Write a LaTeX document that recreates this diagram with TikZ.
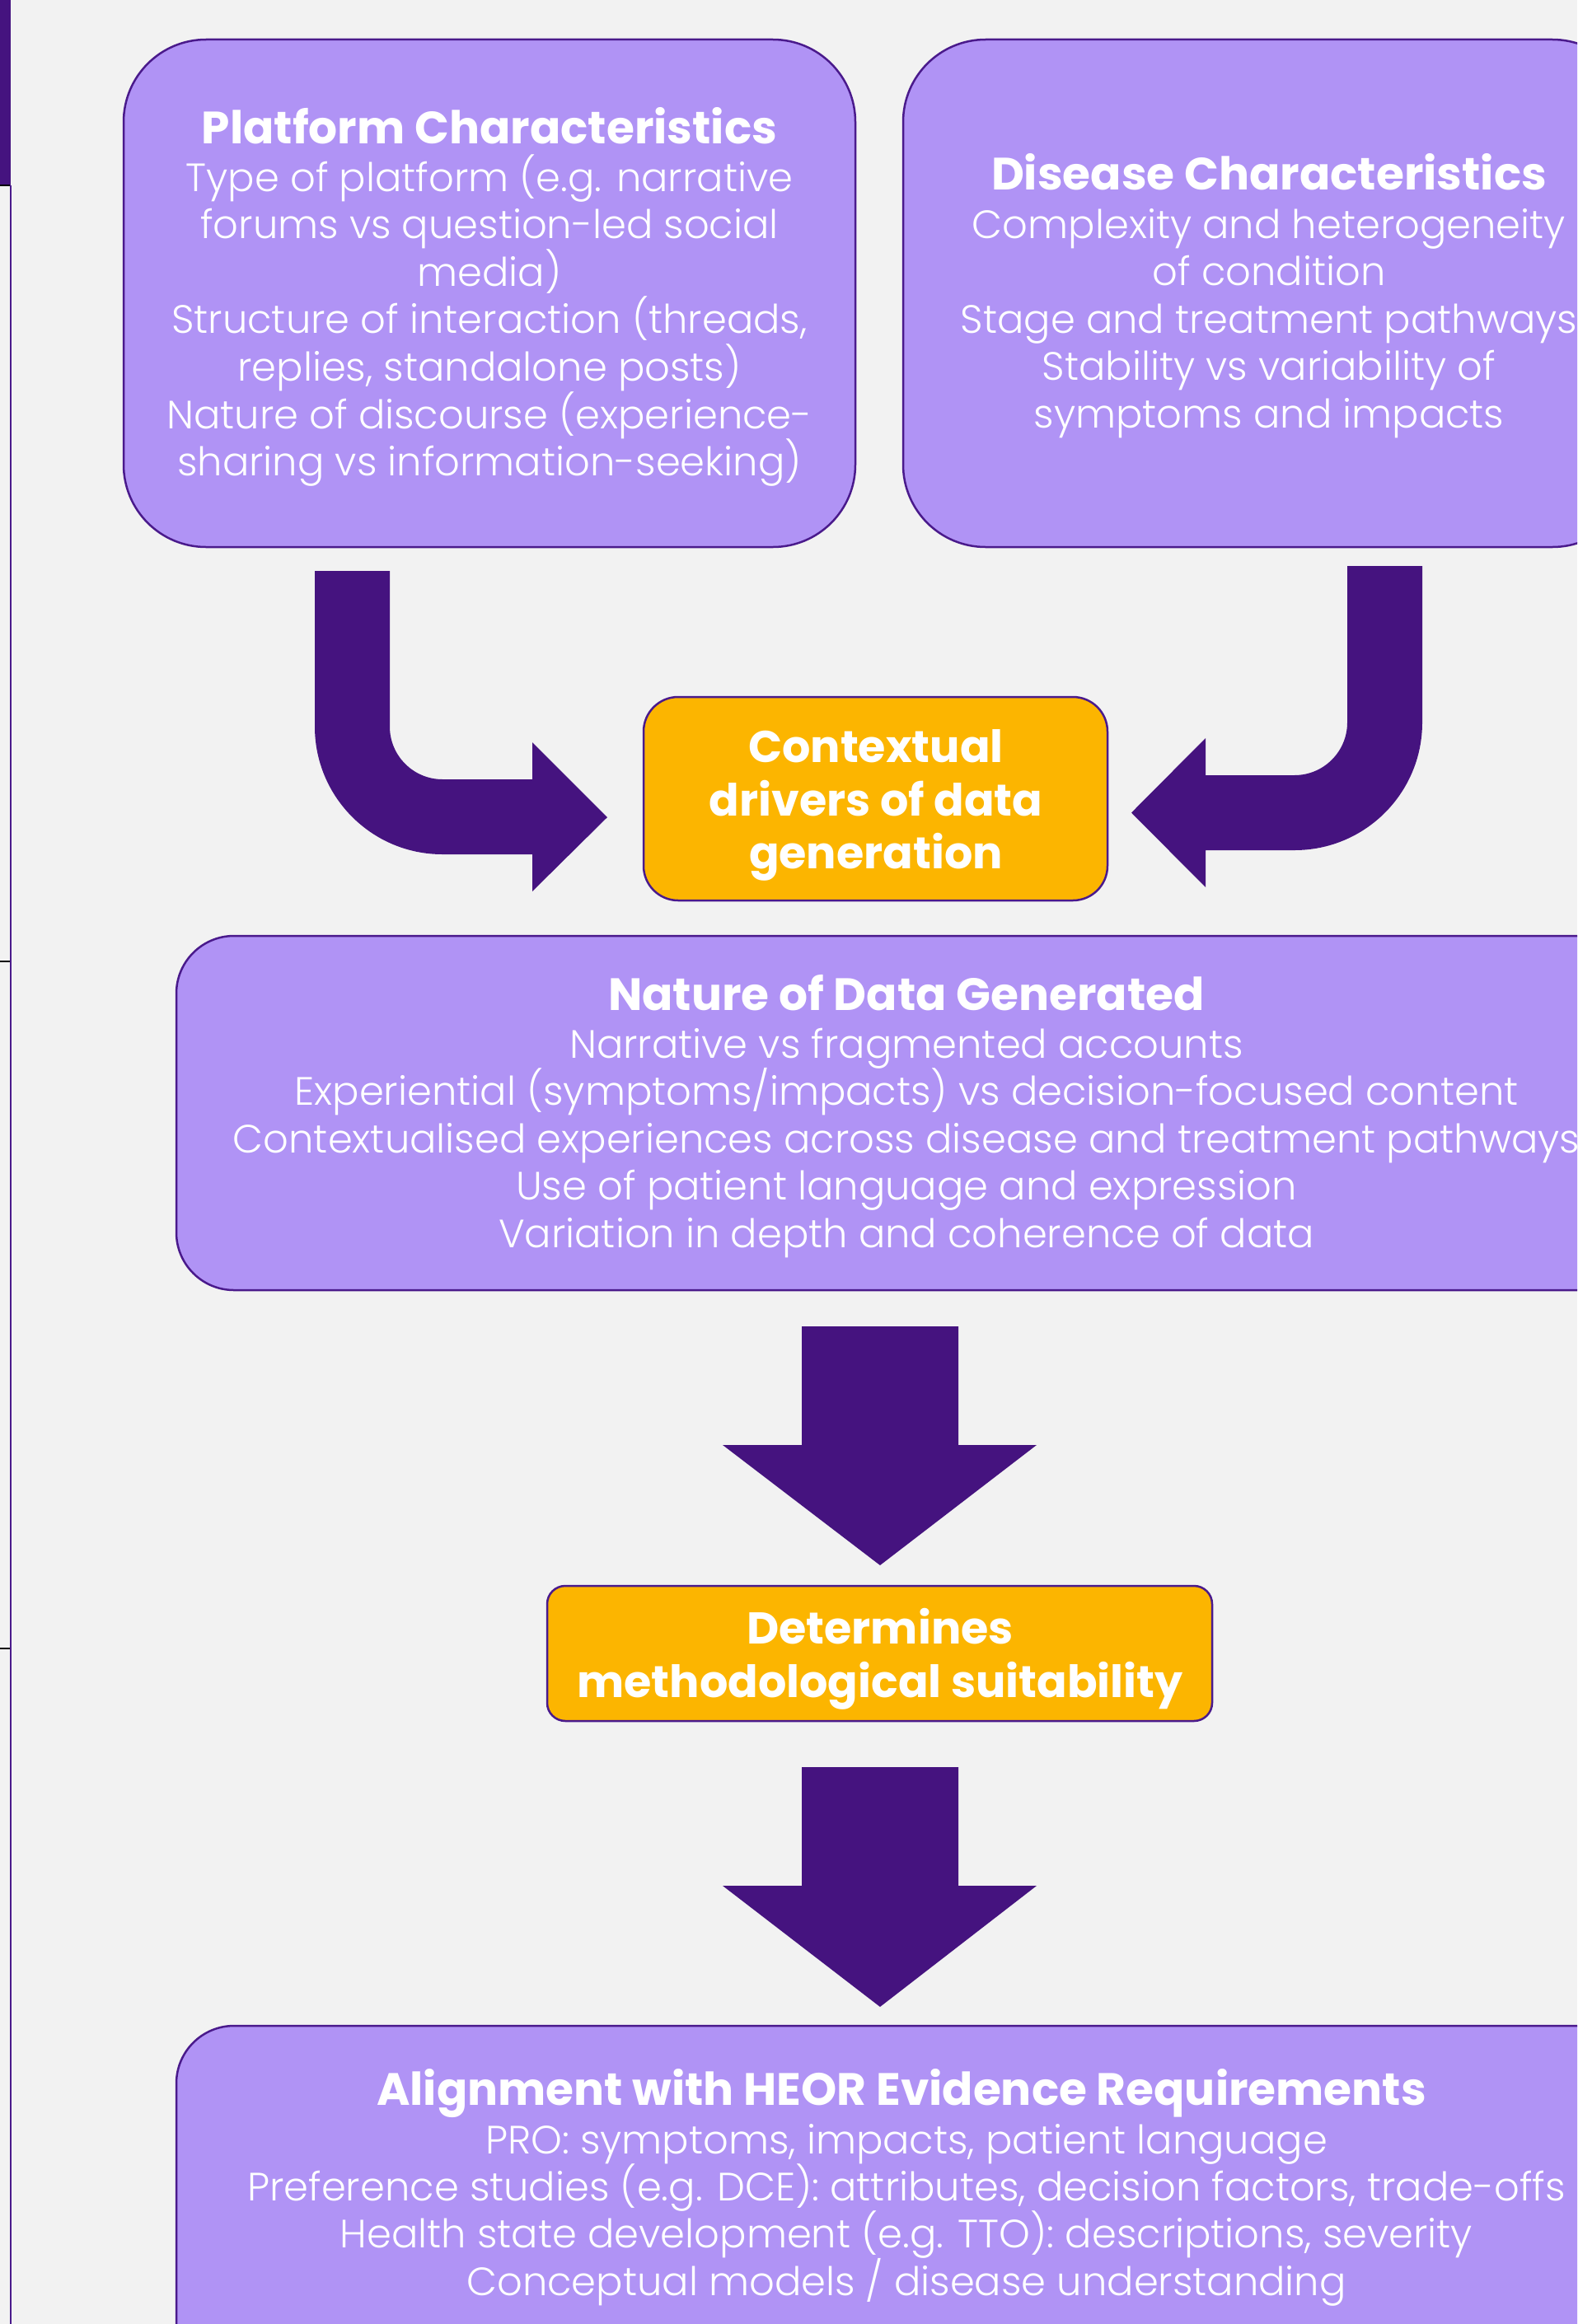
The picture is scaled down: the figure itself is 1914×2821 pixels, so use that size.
\documentclass[tikz,border=0pt]{standalone}
\usepackage{fontspec}
\setmainfont{Poppins}[UprightFont={* Light},BoldFont={* Bold}]
\definecolor{bgc}{HTML}{F2F2F2}
\definecolor{deep}{HTML}{45137F}
\definecolor{lav}{HTML}{B093F5}
\definecolor{amber}{HTML}{FCB500}
\definecolor{edge}{HTML}{4A1A8C}
\begin{document}
\begin{tikzpicture}[x=1pt,y=-1pt,
  panel/.style={draw=edge,line width=2.5pt,fill=lav,rounded corners=#1,inner sep=0pt},
  tag/.style={draw=edge,line width=2.5pt,fill=amber,rounded corners=#1,inner sep=0pt},
  bodytxt/.style={text=white,inner sep=0pt,anchor=base,font=\fontsize{48}{57}\selectfont},
  headtxt/.style={text=white,inner sep=0pt,anchor=base,font=\bfseries\fontsize{55}{64}\selectfont},
  tagtxt/.style={text=white,inner sep=0pt,anchor=base,font=\bfseries\fontsize{54}{64}\selectfont},
  blockarrow/.style={fill=deep,draw=none}]
\useasboundingbox (0,0) rectangle (1914,2821);
\clip (0,0) rectangle (1914,2821);
\fill[bgc] (0,0) rectangle (1914,2821);
% left rail
\fill[deep] (0,0) rectangle (13,225);
\draw[edge,line width=2pt] (12.5,225) -- (12.5,2821);
\draw[black,line width=2pt] (0,225) -- (12,225);
\draw[black,line width=2pt] (0,1167) -- (12,1167);
\draw[black,line width=2pt] (0,2001) -- (12,2001);
% boxes
\node[panel=100pt,minimum width=888pt,minimum height=616pt] (plat) at (594,356) {};
\node[panel=100pt,minimum width=888pt,minimum height=616pt] (dis) at (1540,356) {};
\node[tag=42pt,minimum width=563pt,minimum height=247pt] (ctx) at (1062.5,969.5) {};
\node[panel=70pt,minimum width=1772pt,minimum height=430pt] (nat) at (1100,1351) {};
\node[tag=22pt,minimum width=807pt,minimum height=164pt] (det) at (1067.5,2007) {};
\node[panel=70pt,minimum width=1772pt,minimum height=440pt] (heor) at (1100,2679) {};
% block arrows
\fill[blockarrow] (382,693) -- (382,882) .. controls (382,967.6) and (451.4,1037) .. (537,1037)
  -- (646,1037) -- (646,1082) -- (737,992) -- (646,901) -- (646,946) -- (537,946)
  .. controls (501.7,946) and (473,917.3) .. (473,882) -- (473,693) -- cycle;
\fill[blockarrow] (1726,687) -- (1726,877) .. controls (1726,962.6) and (1656.6,1032) .. (1571,1032)
  -- (1463,1032) -- (1463,1077) -- (1373,986.5) -- (1463,896) -- (1463,941) -- (1571,941)
  .. controls (1606.3,941) and (1635,912.3) .. (1635,877) -- (1635,687) -- cycle;
\fill[blockarrow] (973,1610) -- (1163,1610) -- (1163,1754) -- (1258,1754) -- (1068,1900)
  -- (877,1754) -- (973,1754) -- cycle;
\fill[blockarrow] (973,2145) -- (1163,2145) -- (1163,2289) -- (1258,2289) -- (1068,2436)
  -- (877,2289) -- (973,2289) -- cycle;
% platform text
\node[headtxt] (platT) at (594,174) {Platform Characteristics};
\foreach \t [count=\i] in {{Type of platform (e.g. narrative},{forums vs question-led social},{media)},
  {Structure of interaction (threads,},{replies, standalone posts)},{Nature of discourse (experience-},
  {sharing vs information-seeking)}}
  \node[bodytxt] (plat\i) at (594,{232+57.6*(\i-1)}) {\t};
% disease text
\node[headtxt] (disT) at (1540,230) {Disease Characteristics};
\foreach \t [count=\i] in {{Complexity and heterogeneity},{of condition},{Stage and treatment pathways},
  {Stability vs variability of},{symptoms and impacts}}
  \node[bodytxt] (dis\i) at (1540,{289+57.6*(\i-1)}) {\t};
% contextual
\node[tagtxt] (ctx1) at (1063,925) {Contextual};
\node[tagtxt] (ctx2) at (1063,990) {drivers of data};
\node[tagtxt] (ctx3) at (1063,1054) {generation};
% nature
\node[headtxt] (natT) at (1100,1226) {Nature of Data Generated};
\foreach \t [count=\i] in {{Narrative vs fragmented accounts},
  {Experiential (symptoms/impacts) vs decision-focused content},
  {Contextualised experiences across disease and treatment pathways},
  {Use of patient language and expression},
  {Variation in depth and coherence of data}}
  \node[bodytxt] (nat\i) at (1100,{1284+57.6*(\i-1)}) {\t};
% determines
\node[tagtxt] (det1) at (1068,1995) {Determines};
\node[tagtxt] (det2) at (1068,2060) {methodological suitability};
% heor
\node[headtxt] (heorT) at (1094,2555) {Alignment with HEOR Evidence Requirements};
\foreach \t [count=\i] in {{PRO: symptoms, impacts, patient language},
  {Preference studies (e.g. DCE): attributes, decision factors, trade-offs},
  {Health state development (e.g. TTO): descriptions, severity},
  {Conceptual models / disease understanding}}
  \node[bodytxt] (heor\i) at (1100,{2614+57.4*(\i-1)}) {\t};
\end{tikzpicture}
\end{document}
